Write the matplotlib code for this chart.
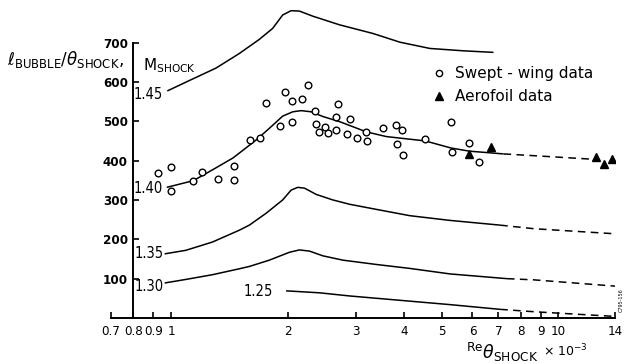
import matplotlib
matplotlib.use('Agg')
import matplotlib.pyplot as plt
from matplotlib.lines import Line2D

plt.rcParams['font.family'] = ['DejaVu Sans']
plt.rcParams['mathtext.fontset'] = 'dejavusans'

# courbes M_shock : partie pleine puis partie en tirets
m145_x = [0.978, 1.135, 1.306, 1.500, 1.690, 1.830, 1.942, 2.042, 2.145, 2.323, 2.724, 3.323, 3.896, 4.660, 5.685, 6.799]
m145_y = [577, 607, 635, 672, 708, 736, 770, 781, 780, 767, 745, 723, 701, 685, 679, 675]

m140_x = [0.975, 1.142, 1.277, 1.447, 1.657, 1.794, 1.942, 2.062, 2.168, 2.301, 2.466, 2.724, 3.194, 3.599, 4.531, 5.282, 5.890, 7.216]
m140_y = [332, 349, 376, 407, 452, 482, 513, 524, 527, 524, 512, 499, 473, 461, 450, 432, 424, 417]
m140_dx = [7.216, 9.535, 12.47]
m140_dy = [417, 410, 403]

m135_x = [0.963, 1.092, 1.279, 1.500, 1.593, 1.759, 1.942, 2.042, 2.124, 2.211, 2.371, 2.617, 2.892, 3.391, 4.136, 5.251, 7.073]
m135_y = [163, 172, 193, 223, 236, 266, 300, 325, 332, 330, 314, 300, 289, 276, 260, 248, 236]
m135_dx = [7.073, 8.630, 14.0]
m135_dy = [236, 227, 214]

m130_x = [0.963, 1.092, 1.279, 1.500, 1.593, 1.794, 2.021, 2.145, 2.278, 2.466, 2.778, 3.391, 4.136, 5.251, 7.363]
m130_y = [89, 98, 110, 125, 131, 147, 167, 173, 170, 158, 147, 136, 126, 112, 100]
m130_dx = [7.363, 8.630, 14.0]
m130_dy = [100, 97, 81]

m125_x = [1.982, 2.418, 2.892, 3.896, 5.251, 7.073]
m125_y = [69, 64, 56, 45, 34, 22]
m125_dx = [7.073, 8.630, 14.0]
m125_dy = [22, 16, 4]

# points de mesure
swept_x = [0.927, 1.0, 1.0, 1.142, 1.205, 1.324, 1.450, 1.450, 1.599, 1.701,
           1.759, 1.909, 1.966, 2.050, 2.054, 2.181, 2.261, 2.354, 2.371, 2.406,
           2.503, 2.545, 2.700, 2.667, 2.892, 2.670, 2.849, 3.021, 3.194, 3.206,
           3.527, 3.816, 3.937, 3.828, 3.967, 4.529, 5.279, 5.304, 5.890, 6.243]
swept_y = [369, 383, 324, 349, 372, 353, 386, 350, 453, 457,
           546, 487, 574, 551, 499, 557, 591, 527, 493, 473,
           486, 469, 543, 512, 506, 477, 467, 457, 472, 449,
           484, 490, 479, 441, 414, 455, 499, 421, 444, 397]

aero_x = [5.890, 6.717, 12.51, 13.08, 13.72]
aero_y = [417, 434, 409, 391, 405]

xtick_vals = [0.7, 0.8, 0.9, 1, 2, 3, 4, 5, 6, 7, 8, 9, 10, 14]
xtick_labels = ['0.7', '0.8', '0.9', '1', '2', '3', '4', '5', '6', '7', '8', '9', '10', '14']
ytick_vals = [100, 200, 300, 400, 500, 600, 700]

mach_labels = ['1.45', '1.40', '1.35', '1.30']
mach_label_y = [567, 329, 163, 79]

fig = plt.figure(figsize=(6.28, 3.64), dpi=100)
ax = fig.add_axes([111 / 628, 46 / 364, 504 / 628, 314.8 / 364])
ax.set_xscale('log')
ax.set_xlim(0.7, 14)
ax.set_ylim(0, 800)

lw = 1.1
for cx, cy in [(m145_x, m145_y), (m140_x, m140_y), (m135_x, m135_y), (m130_x, m130_y), (m125_x, m125_y)]:
    ax.plot(cx, cy, color='black', lw=lw, solid_capstyle='butt', solid_joinstyle='round')
for cx, cy in [(m140_dx, m140_dy), (m135_dx, m135_dy), (m130_dx, m130_dy), (m125_dx, m125_dy)]:
    ax.plot(cx, cy, color='black', lw=lw, dashes=(5, 3.5))

ax.plot(swept_x, swept_y, 'o', ms=4.8, mfc='white', mec='black', mew=1.0, ls='none')
ax.plot(aero_x, aero_y, '^', ms=5.5, mfc='black', mec='black', ls='none')

# étiquettes des courbes
for lab, ly in zip(mach_labels, mach_label_y):
    ax.text(0.955, ly, lab, ha='right', va='center', fontsize=10.5, fontstretch='condensed')
ax.text(1.83, 68, '1.25', ha='right', va='center', fontsize=10.5, fontstretch='condensed')

# axes
for s in ['top', 'right']:
    ax.spines[s].set_visible(False)
ax.spines['left'].set_position(('data', 0.8))
ax.spines['left'].set_bounds(0, 700)
ax.spines['left'].set_linewidth(1.4)
ax.spines['bottom'].set_linewidth(1.4)

ax.set_xticks(xtick_vals)
ax.set_xticklabels(xtick_labels, fontstretch='condensed')
ax.xaxis.set_minor_locator(matplotlib.ticker.NullLocator())
ax.set_yticks(ytick_vals)
ax.set_yticklabels([str(v) for v in ytick_vals], fontweight='bold', fontstretch='condensed')
ax.tick_params(axis='both', direction='in', length=4, width=1.2)
ax.tick_params(axis='x', pad=5, labelsize=9.5)
ax.tick_params(axis='y', pad=4, labelsize=9.5)

# légende
handles = [Line2D([], [], marker='o', ms=4.5, mfc='white', mec='black', mew=1.0, ls='none'),
           Line2D([], [], marker='^', ms=5.5, mfc='black', mec='black', ls='none')]
ax.legend(handles, ['Swept - wing data', 'Aerofoil data'], loc='upper left',
          bbox_to_anchor=(0.627, 0.82), frameon=False, fontsize=11,
          handlelength=0.8, handletextpad=0.6, labelspacing=0.55, borderaxespad=0)

# titres des axes
fig.text(7 / 628, 1 - 60 / 364, r'$\ell_{\mathrm{BUBBLE}}/\theta_{\mathrm{SHOCK}},$', ha='left', va='center', fontsize=12)
fig.text(143 / 628, 1 - 66 / 364, r'M$_{\mathrm{SHOCK}}$', ha='left', va='center', fontsize=11)
fig.text(466 / 628, 1 - 352 / 364, r'$^{\mathrm{Re}}\theta_{\mathrm{SHOCK}}$', ha='left', va='center', fontsize=12.5)
fig.text(543 / 628, 1 - 351 / 364, r'$\times$ 10$^{-3}$', ha='left', va='center', fontsize=9)
fig.text(621 / 628, 1 - 300 / 364, 'C795-156', rotation=90, ha='center', va='center', fontsize=3.5)

fig.savefig('out.png', dpi=100)
